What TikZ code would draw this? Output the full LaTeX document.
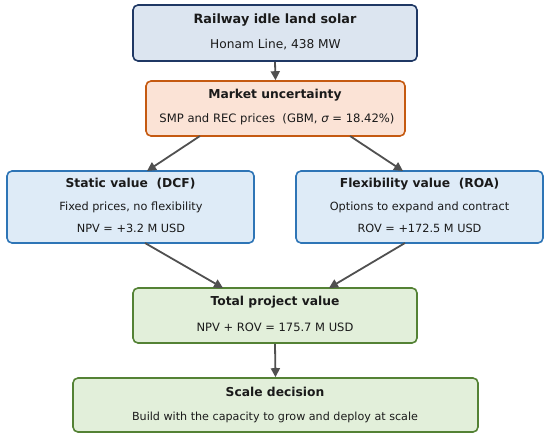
\documentclass[tikz,border=0pt]{standalone}
\usepackage{fontspec}
\setmainfont{DejaVu Sans}
\usetikzlibrary{arrows.meta}
\definecolor{navyB}{HTML}{1F3864}
\definecolor{navyF}{HTML}{DCE5F0}
\definecolor{orgB}{HTML}{C55A11}
\definecolor{orgF}{HTML}{FBE3D6}
\definecolor{bluB}{HTML}{2E75B6}
\definecolor{bluF}{HTML}{DEEBF7}
\definecolor{grnB}{HTML}{548235}
\definecolor{grnF}{HTML}{E2EFDA}
\definecolor{arr}{HTML}{505050}
\definecolor{txt}{HTML}{1A1A1A}
\tikzset{
  box/.style={draw, line width=1.6pt, rounded corners=5pt, inner sep=0pt},
  ttl/.style={font=\fontsize{12.3}{14}\selectfont\bfseries, text=txt, inner sep=0pt},
  sub/.style={font=\fontsize{11.3}{13}\selectfont, text=txt, inner sep=0pt},
  conn/.style={draw=arr, line width=1.8pt, -{Triangle[length=9pt,width=9pt]}},
}
\begin{document}
\begin{tikzpicture}[x=1pt,y=-1pt]
\useasboundingbox (0,0) rectangle (550,440);
% boxes
\node[box, draw=navyB, fill=navyF, minimum width=284pt, minimum height=56pt] (rail) at (275,33) {};
\node[box, draw=orgB, fill=orgF, minimum width=259pt, minimum height=55pt] (mkt) at (275.5,108.5) {};
\node[box, draw=bluB, fill=bluF, minimum width=247pt, minimum height=72pt] (stat) at (130.5,207) {};
\node[box, draw=bluB, fill=bluF, minimum width=247pt, minimum height=72pt] (flex) at (419.5,207) {};
\node[box, draw=grnB, fill=grnF, minimum width=284pt, minimum height=55pt] (tot) at (275,315.5) {};
\node[box, draw=grnB, fill=grnF, minimum width=405pt, minimum height=54pt] (scl) at (275.5,405) {};
% texts
\node[ttl, font=\fontsize{12.8}{14}\selectfont\bfseries] (t1) at (275,20) {Railway idle land solar};
\node[sub, font=\fontsize{12.2}{14}\selectfont] (s1) at (275.5,45) {Honam Line, 438 MW};
\node[ttl] (t2) at (275,95) {Market uncertainty};
\node[sub, font=\fontsize{11.6}{14}\selectfont] (s2) at (277,119) {SMP and REC prices\ \ (GBM, {\itshape σ} = 18.42\%)};
\node[ttl] (t3) at (130.5,184) {Static value\ \ (DCF)};
\node[sub] (s3a) at (131,207) {Fixed prices, no flexibility};
\node[sub] (s3b) at (131,228.5) {NPV = +3.2 M USD};
\node[ttl] (t4) at (419.5,184) {Flexibility value\ \ (ROA)};
\node[sub] (s4a) at (419.5,207) {Options to expand and contract};
\node[sub] (s4b) at (419.5,228.5) {ROV = +172.5 M USD};
\node[ttl] (t5) at (275,302) {Total project value};
\node[sub, font=\fontsize{11.5}{14}\selectfont] (s5) at (275,327) {NPV + ROV = 175.7 M USD};
\node[ttl] (t6) at (275,392) {Scale decision};
\node[sub, font=\fontsize{11.15}{14}\selectfont] (s6) at (275,417) {Build with the capacity to grow and deploy at scale};
% connectors
\coordinate (a1) at (200,136);
\coordinate (a2) at (147,171);
\coordinate (b1) at (350,136);
\coordinate (b2) at (403,171);
\coordinate (c1) at (145,243);
\coordinate (c2) at (223,288);
\coordinate (d1) at (405,243);
\coordinate (d2) at (329,288);
\draw[conn] (rail.south) -- (mkt.north);
\draw[conn] (a1) -- (a2);
\draw[conn] (b1) -- (b2);
\draw[conn] (c1) -- (c2);
\draw[conn] (d1) -- (d2);
\draw[conn] (tot.south) -- (scl.north);
\end{tikzpicture}
\end{document}
